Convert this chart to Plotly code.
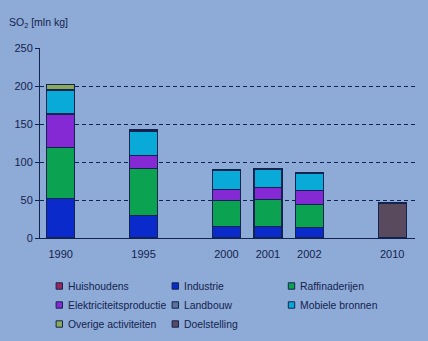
import plotly.graph_objects as go

years = ["1990", "1995", "2000", "2001", "2002"]
axis_categories = ["1990", " ", "1995", "  ", "2000", "2001", "2002", "   ", "2010"]
tick_labels = ["1990", "1995", "2000", "2001", "2002", "2010"]

huishoudens = [None, None, None, None, None]
industrie = [52, 30, 15.4, 15.4, 14]
raffinaderijen = [66.7, 61.6, 33.6, 35.4, 30.3]
elektriciteit = [44.5, 17, 15, 15.8, 18.4]
landbouw = [None, None, None, None, None]
mobiele = [31.5, 32, 25.4, 23.6, 21.8]
overige = [7.4, 2.2, 1, 1, 1]
doel_years = ["2010"]
doelstelling = [46]

colors = {
    "Huishoudens": "#98265A",
    "Industrie": "#0A2ACB",
    "Raffinaderijen": "#0BA352",
    "Elektriciteitsproductie": "#8429D3",
    "Landbouw": "#5C7399",
    "Mobiele bronnen": "#0AAAD8",
    "Overige activiteiten": "#8AAA5A",
    "Doelstelling": "#5A4A5E",
}

series = [
    ("Huishoudens", years, huishoudens),
    ("Industrie", years, industrie),
    ("Raffinaderijen", years, raffinaderijen),
    ("Elektriciteitsproductie", years, elektriciteit),
    ("Landbouw", years, landbouw),
    ("Mobiele bronnen", years, mobiele),
    ("Overige activiteiten", years, overige),
    ("Doelstelling", doel_years, doelstelling),
]

ink = "#13234F"
bg = "#8EAAD6"

fig = go.Figure()
for name, xs, ys in series:
    fig.add_trace(go.Bar(
        name=name, x=xs, y=ys,
        marker=dict(color=colors[name], line=dict(color=ink, width=1.3)),
    ))

# legend drawn as a 3-column grid (squares as shapes, labels as annotations)
W, H = 428, 341
L, R, T, B = 40, 13, 48, 103
pw, ph = W - L - R, H - T - B
def px_x(px):
    return (px - L) / pw
def px_y(py):
    return (H - B - py) / ph

col_sq = [59.3, 175.3, 291.5]
col_tx = [66, 181.5, 297.5]
row_y = [286, 305, 324]
half = 3.2
annotations = [dict(
    text="SO<sub>2</sub> [mln kg]", xref="paper", yref="paper",
    x=px_x(7), y=px_y(23), xanchor="left", yanchor="middle",
    showarrow=False, font=dict(size=10.5, color=ink),
)]
shapes = []
for i, (name, _, _) in enumerate(series):
    r, c = divmod(i, 3)
    shapes.append(dict(
        type="rect", xref="paper", yref="paper",
        x0=px_x(col_sq[c] - half), x1=px_x(col_sq[c] + half),
        y0=px_y(row_y[r] + half), y1=px_y(row_y[r] - half),
        fillcolor=colors[name], line=dict(color=ink, width=1),
    ))
    annotations.append(dict(
        text=name, xref="paper", yref="paper", x=px_x(col_tx[c]), y=px_y(row_y[r]),
        xanchor="left", yanchor="middle", showarrow=False,
        font=dict(size=10.4, color=ink),
    ))

fig.update_layout(
    barmode="stack",
    bargap=0.325,
    width=W, height=H,
    margin=dict(l=L, r=R, t=T, b=B),
    paper_bgcolor=bg, plot_bgcolor=bg,
    font=dict(family="Liberation Sans, Arial, sans-serif", size=11, color=ink),
    showlegend=False,
    xaxis=dict(
        type="category", categoryorder="array", categoryarray=axis_categories,
        tickvals=tick_labels, ticklabelstandoff=6,
        range=[-0.5, 8.55], showline=True, linecolor=ink, linewidth=1,
        ticks="", showgrid=False, tickfont=dict(size=11, color=ink),
    ),
    yaxis=dict(
        range=[0, 250], tickvals=[0, 50, 100, 150, 200, 250],
        showline=True, linecolor=ink, linewidth=1,
        ticks="outside", ticklen=4, tickcolor=ink,
        showgrid=True, gridcolor=ink, gridwidth=1, griddash="4px,3px",
        zeroline=False, tickfont=dict(size=11, color=ink),
    ),
    annotations=annotations,
    shapes=shapes,
)

fig.write_html("out.html")
